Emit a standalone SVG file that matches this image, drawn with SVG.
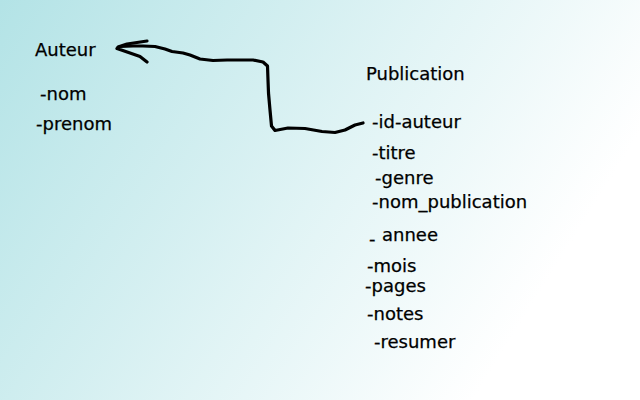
<svg xmlns="http://www.w3.org/2000/svg" width="640" height="400" viewBox="0 0 640 400">
  <defs>
    <linearGradient id="bg" gradientUnits="userSpaceOnUse" x1="0" y1="0" x2="520" y2="325">
      <stop offset="0" stop-color="#b3e3e6"/>
      <stop offset="1" stop-color="#ffffff"/>
    </linearGradient>
    <style>
      text { font-family: "DejaVu Sans", "Liberation Sans", sans-serif; font-size: 18px; fill: #000; stroke: #000; stroke-width: 0.25; }
      .wire { fill: none; stroke: #000; stroke-width: 3.2; stroke-linejoin: round; stroke-linecap: round; }
    </style>
  </defs>
  <rect x="0" y="0" width="640" height="400" fill="url(#bg)"/>
  <g id="connectors">
    <path class="wire" d="M363,123 L355,125 L345,130 L335,132.5 L322,131.5 L305,128.5 L288,128 L275,130.5 L271.5,126 L270,110 L268.5,93 L268,80 L267.5,66 L263,62 L253,60 L240,60 L227,60 L213,60.5 L200,59 L190,55 L183,53 L172,51.5 L165,49 L155,46.5 L143,46 L133,46 L120,46.5 L117,48.5 L130,53 L140,56.5 L147,62"/>
    <path class="wire" d="M118,47 L127,44 L137,42.5 L147,41"/>
  </g>
  <g id="auteur">
    <text x="35" y="56">Auteur</text>
    <text x="40" y="100">-nom</text>
    <text x="36" y="130">-prenom</text>
  </g>
  <g id="publication">
    <text x="366" y="80">Publication</text>
    <text x="372" y="128">-id-auteur</text>
    <text x="372" y="159">-titre</text>
    <text x="375" y="184">-genre</text>
    <text x="372" y="208">-nom_publication</text>
    <text><tspan x="369" y="245">-</tspan><tspan x="382" y="241">annee</tspan></text>
    <text x="367" y="272">-mois</text>
    <text x="365" y="292">-pages</text>
    <text x="367" y="320">-notes</text>
    <text x="374" y="348">-resumer</text>
  </g>
</svg>
